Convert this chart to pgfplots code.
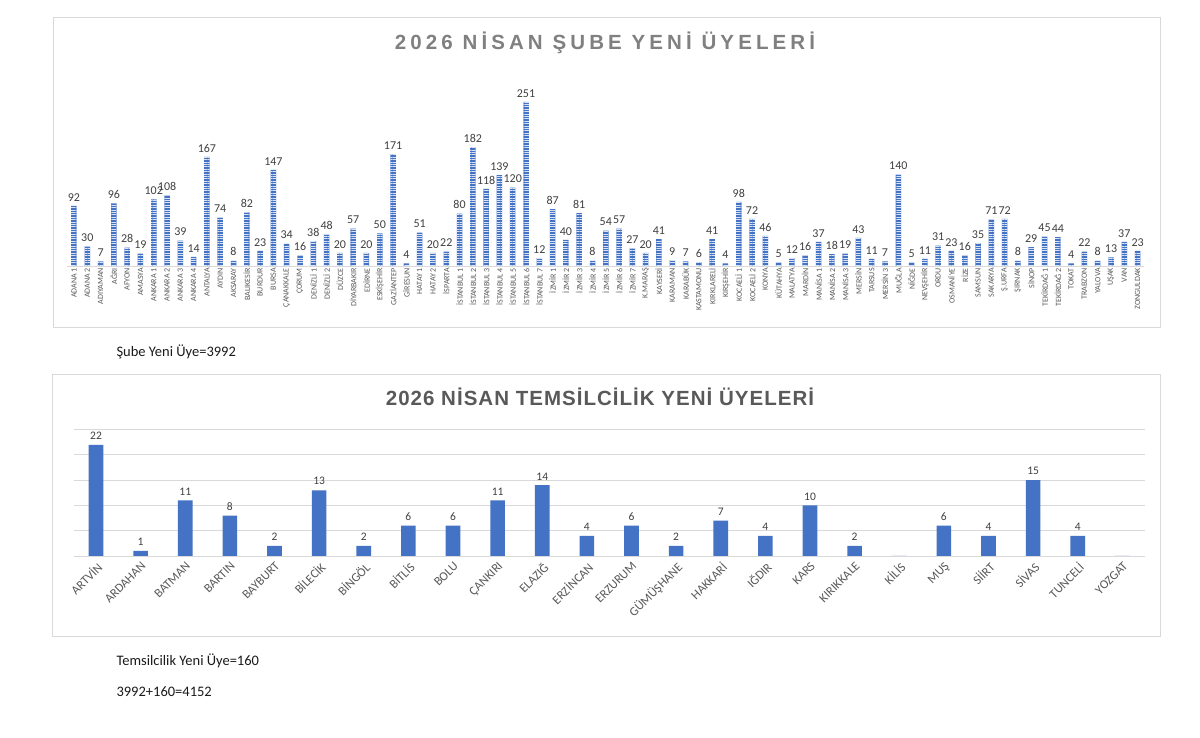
\documentclass[border=0pt]{standalone}
\usepackage{pgfplots}
\pgfplotsset{compat=1.18}
\usepackage{fontspec}
\setmainfont{Carlito}
\newfontfamily\titleA[LetterSpace=20]{Liberation Sans}
\newfontfamily\titleB[LetterSpace=5]{Liberation Sans}
\usetikzlibrary{patterns.meta}
\definecolor{barblue}{HTML}{4472C4}
\definecolor{framegray}{HTML}{D9D9D9}
\definecolor{labgray}{HTML}{595959}
\definecolor{valgray}{HTML}{404040}
\definecolor{txt}{HTML}{1A1A1A}
\begin{document}
\begin{tikzpicture}[x=1pt,y=1pt]
\path[use as bounding box, fill=white] (0,0) rectangle (1200,738);
\draw[framegray, line width=0.8pt] (53,411) rectangle (1160,721);
\draw[framegray, line width=0.8pt] (52,102) rectangle (1160,364);
\node[font=\titleA\bfseries\fontsize{20.5}{24}\selectfont, color=black!50, anchor=base] at (605,688) {2026 NİSAN ŞUBE YENİ ÜYELERİ};
\node[font=\titleB\bfseries\fontsize{20.5}{24}\selectfont, color=labgray, anchor=base] at (600,332) {2026 NİSAN TEMSİLCİLİK YENİ ÜYELERİ};
\node[anchor=base west, font=\fontsize{14.5}{17}\selectfont, color=txt] at (113,381) {Şube Yeni Üye=3992};
\node[anchor=base west, font=\fontsize{14.5}{17}\selectfont, color=txt] at (113,72) {Temsilcilik Yeni Üye=160};
\node[anchor=base west, font=\fontsize{14.5}{17}\selectfont, color=txt] at (113,41.5) {3992+160=4152};

\begin{axis}[
  at={(67.35pt,472pt)}, anchor=south west, scale only axis,
  width=1077pt, height=169.9pt,
  xmin=0.5, xmax=81.5, ymin=0, ymax=260,
  axis x line*=bottom, axis y line=none,
  x axis line style={framegray, -},
  xtick={1,...,81}, major tick length=0pt,
  /pgf/number format/assume math mode=true,
  xticklabels={ADANA 1,ADANA 2,ADIYAMAN,AĞRI,AFYON,AMASYA,ANKARA 1,ANKARA 2,ANKARA 3,ANKARA 4,ANTALYA,AYDIN,AKSARAY,BALIKESİR,BURDUR,BURSA,ÇANAKKALE,ÇORUM,DENİZLİ 1,DENİZLİ 2,DÜZCE,DİYARBAKIR,EDİRNE,ESKİŞEHİR,GAZİANTEP,GİRESUN,HATAY 1,HATAY 2,İSPARTA,İSTANBUL 1,İSTANBUL 2,İSTANBUL 3,İSTANBUL 4,İSTANBUL 5,İSTANBUL 6,İSTANBUL 7,İZMİR 1,İZMİR 2,İZMİR 3,İZMİR 4,İZMİR 5,İZMİR 6,İZMİR 7,K.MARAŞ,KAYSERİ,KARAMAN,KARABÜK,KASTAMONU,KIRKLARELİ,KIRŞEHİR,KOCAELİ 1,KOCAELİ 2,KONYA,KÜTAHYA,MALATYA,MARDİN,MANİSA 1,MANİSA 2,MANİSA 3,MERSİN,TARSUS,MERSİN 3,MUĞLA,NİĞDE,NEVŞEHİR,ORDU,OSMANİYE,RİZE,SAMSUN,SAKARYA,Ş.URFA,ŞIRNAK,SİNOP,TEKİRDAĞ 1,TEKİRDAĞ 2,TOKAT,TRABZON,YALOVA,UŞAK,VAN,ZONGULDAK},
  xticklabel style={rotate=90, anchor=east, font=\fontsize{8}{9}\selectfont, color=labgray, inner sep=2pt},
  ybar, bar width=5.5pt, bar shift=0pt,
  nodes near coords,
  every node near coord/.append style={font=\fontsize{12}{14}\selectfont, color=valgray, inner sep=4.5pt},
  clip=false,
]
\addplot[fill=barblue, draw=none, postaction={pattern={Lines[angle=0,distance=2.4pt,line width=0.6pt]}, pattern color=white!80!barblue}] coordinates {
(1,92) (2,30) (3,7) (4,96) (5,28) (6,19) (7,102) (8,108) (9,39) (10,14)
(11,167) (12,74) (13,8) (14,82) (15,23) (16,147) (17,34) (18,16) (19,38) (20,48)
(21,20) (22,57) (23,20) (24,50) (25,171) (26,4) (27,51) (28,20) (29,22) (30,80)
(31,182) (32,118) (33,139) (34,120) (35,251) (36,12) (37,87) (38,40) (39,81) (40,8)
(41,54) (42,57) (43,27) (44,20) (45,41) (46,9) (47,7) (48,6) (49,41) (50,4)
(51,98) (52,72) (53,46) (54,5) (55,12) (56,16) (57,37) (58,18) (59,19) (60,43)
(61,11) (62,7) (63,140) (64,5) (65,11) (66,31) (67,23) (68,16) (69,35) (70,71)
(71,72) (72,8) (73,29) (74,45) (75,44) (76,4) (77,22) (78,8) (79,13) (80,37)
(81,23)};
\end{axis}

\begin{axis}[
  at={(73.7pt,182pt)}, anchor=south west, scale only axis,
  width=1071pt, height=126.4pt,
  xmin=-0.5, xmax=23.5, ymin=0, ymax=25,
  axis line style={draw=none},
  ytick={0,5,...,25}, yticklabels={},
  ymajorgrids, grid style={framegray, line width=0.8pt},
  xtick={0,...,23}, major tick length=0pt,
  /pgf/number format/assume math mode=true,
  xticklabels={ARTVİN,ARDAHAN,BATMAN,BARTIN,BAYBURT,BİLECİK,BİNGÖL,BİTLİS,BOLU,ÇANKIRI,ELAZIĞ,ERZİNCAN,ERZURUM,GÜMÜŞHANE,HAKKARİ,IĞDIR,KARS,KIRIKKALE,KİLİS,MUŞ,SİİRT,SİVAS,TUNCELİ,YOZGAT},
  xticklabel style={rotate=45, anchor=north east, font=\fontsize{12.5}{14}\selectfont, color=labgray, inner sep=3.5pt},
  ybar, bar width=14.6pt, bar shift=0pt,
  clip=false,
]
\addplot[fill=barblue, draw=none, nodes near coords,
  every node near coord/.append style={font=\fontsize{11.5}{13}\selectfont, color=valgray, inner sep=5pt}] coordinates {
(0,22) (1,1) (2,11) (3,8) (4,2) (5,13) (6,2) (7,6) (8,6) (9,11)
(10,14) (11,4) (12,6) (13,2) (14,7) (15,4) (16,10) (17,2) (19,6) (20,4)
(21,15) (22,4)};
\addplot[fill=barblue, draw=none] coordinates {(18,0) (23,0)};
\end{axis}
\end{tikzpicture}
\end{document}
